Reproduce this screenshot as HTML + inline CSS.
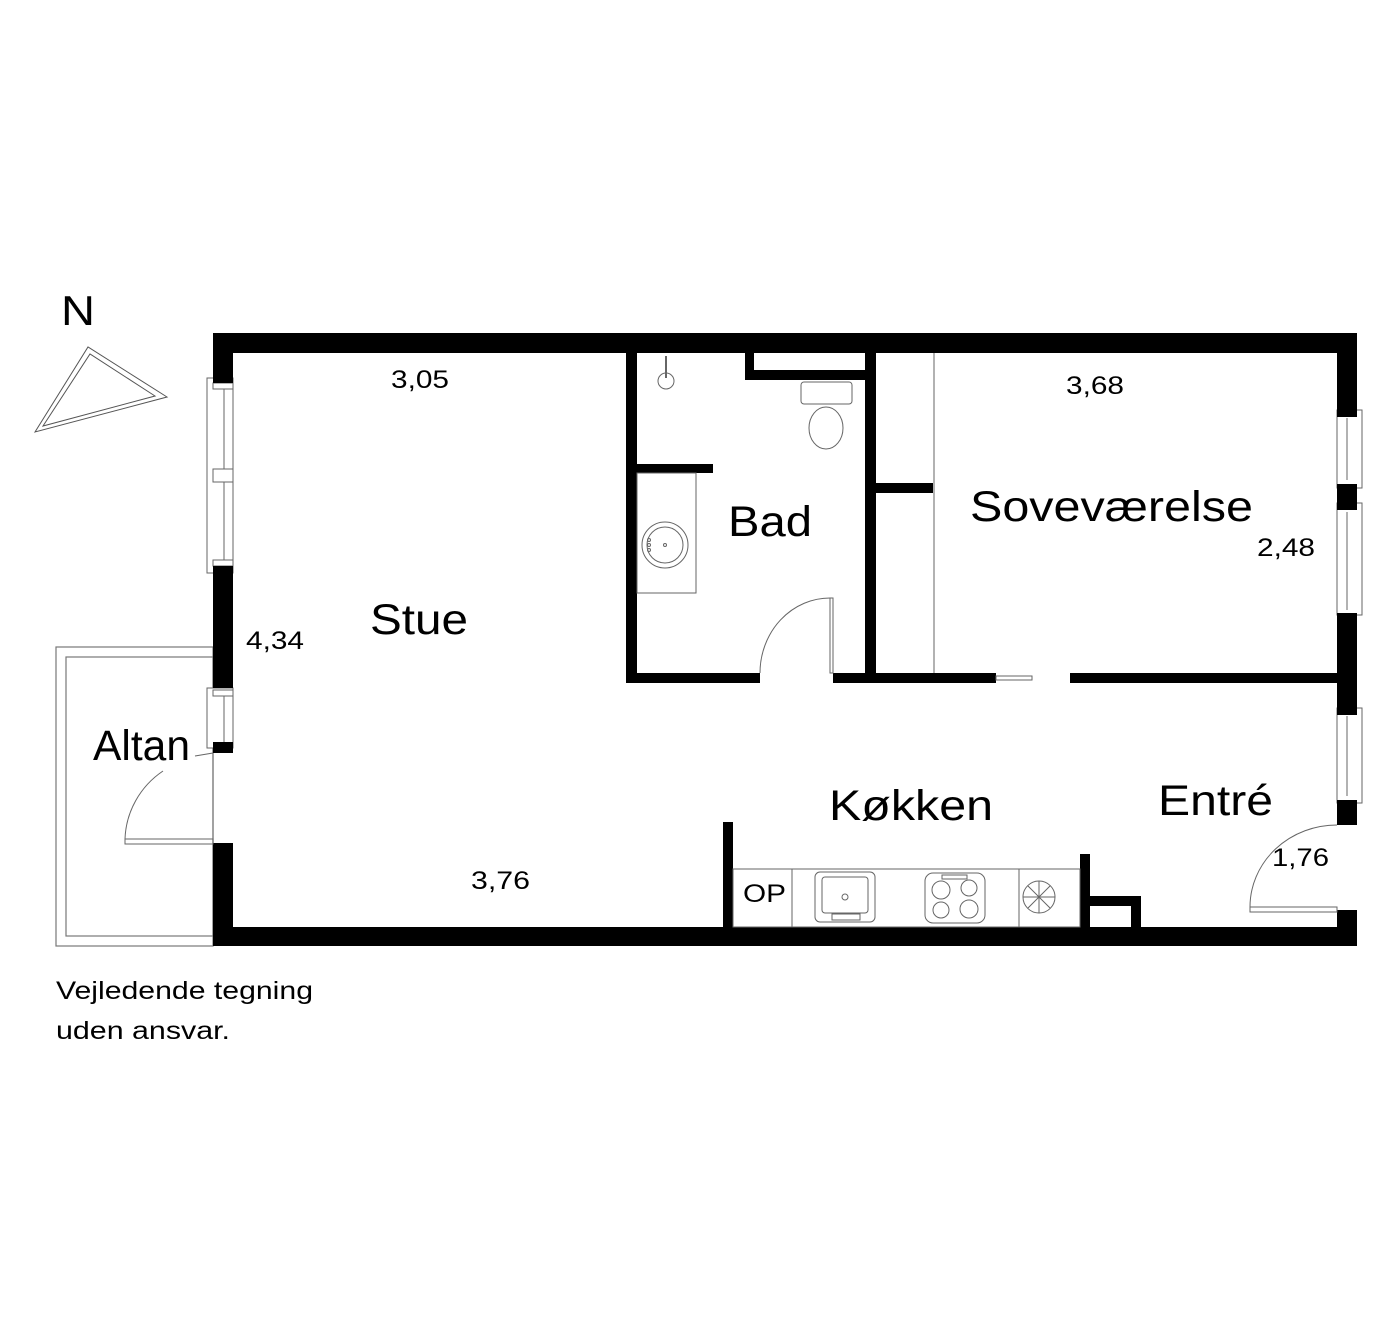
<!DOCTYPE html>
<html><head><meta charset="utf-8"><style>
html,body{margin:0;padding:0;background:#fff;}
svg{display:block;}
text{font-family:"Liberation Sans",Arial,sans-serif;fill:#000;}
</style></head><body>
<svg width="1400" height="1340" viewBox="0 0 1400 1340" xmlns="http://www.w3.org/2000/svg">
<rect width="1400" height="1340" fill="#fff"/>
<text x="61" y="325" font-size="42" textLength="34" lengthAdjust="spacingAndGlyphs">N</text>
<polygon points="35,432 88,347 167,397" fill="none" stroke="#555" stroke-width="1"/>
<polygon points="43,426 90,354 155,396" fill="none" stroke="#555" stroke-width="1"/>
<rect x="56" y="647" width="157" height="299" fill="none" stroke="#777" stroke-width="1.2"/>
<rect x="66" y="657" width="147" height="279" fill="none" stroke="#777" stroke-width="1.2"/>
<g fill="#fff" stroke="#666" stroke-width="1">
<rect x="207" y="378" width="26" height="195"/>
<rect x="213" y="383" width="20" height="6"/>
<rect x="213" y="469" width="20" height="13"/>
<rect x="213" y="560" width="20" height="6"/>
<line x1="224" y1="389" x2="224" y2="469"/><line x1="224" y1="482" x2="224" y2="560"/>
<rect x="207" y="688" width="26" height="60"/>
<rect x="213" y="690" width="20" height="6"/>
<line x1="224" y1="696" x2="224" y2="742"/>
<rect x="1337" y="410" width="25" height="78"/>
<rect x="1337" y="503" width="25" height="112"/>
<rect x="1337" y="708" width="25" height="95"/>
<line x1="1347" y1="418" x2="1347" y2="480"/>
<line x1="1347" y1="512" x2="1347" y2="610"/>
<line x1="1347" y1="716" x2="1347" y2="796"/>
</g>
<g fill="#000">
<rect x="213" y="333" width="1144" height="20"/>
<rect x="213" y="927" width="1144" height="19"/>
<rect x="213" y="333" width="20" height="50"/>
<rect x="213" y="566" width="20" height="122"/>
<rect x="213" y="742" width="20" height="11"/>
<rect x="213" y="843" width="20" height="103"/>
<rect x="1337" y="333" width="20" height="84"/>
<rect x="1337" y="484" width="20" height="26"/>
<rect x="1337" y="613" width="20" height="102"/>
<rect x="1337" y="800" width="20" height="25"/>
<rect x="1337" y="910" width="20" height="36"/>
<rect x="626" y="353" width="11" height="330"/>
<rect x="626" y="673" width="134" height="10"/>
<rect x="833" y="673" width="163" height="10"/>
<rect x="865" y="353" width="11" height="330"/>
<rect x="745" y="353" width="9" height="27"/>
<rect x="745" y="370" width="131" height="10"/>
<rect x="637" y="464" width="76" height="9"/>
<rect x="876" y="483" width="57" height="10"/>
<rect x="1070" y="673" width="267" height="10"/>
<rect x="723" y="822" width="10" height="105"/>
<rect x="1080" y="854" width="10" height="73"/>
<rect x="1080" y="896" width="61" height="10"/>
<rect x="1131" y="896" width="10" height="31"/>
</g>
<g fill="none" stroke="#666" stroke-width="1">
<line x1="934" y1="353" x2="934" y2="673"/>
<rect x="996" y="676" width="36" height="4"/>
<rect x="830" y="598" width="3" height="75"/>
<path d="M760,673 A70,75 0 0 1 830,598"/>
<rect x="637" y="473" width="59" height="120"/>
<circle cx="665" cy="545" r="23"/><circle cx="665" cy="545" r="18"/><circle cx="665" cy="545" r="1.5"/>
<circle cx="649" cy="540" r="1.5"/><circle cx="649" cy="545" r="1.5"/><circle cx="649" cy="550" r="1.5"/>
<circle cx="666" cy="381" r="8"/><line x1="666" y1="356" x2="666" y2="378" stroke-width="2"/>
<rect x="801" y="382" width="51" height="22" rx="3"/>
<ellipse cx="826" cy="428" rx="17" ry="21"/>
<rect x="733" y="869" width="347" height="58"/>
<line x1="792" y1="869" x2="792" y2="927"/>
<line x1="1019" y1="869" x2="1019" y2="927"/>
<rect x="815" y="872" width="60" height="50" rx="5"/>
<rect x="822" y="877" width="46" height="36" rx="3"/>
<circle cx="845" cy="897" r="3"/>
<rect x="832" y="914" width="28" height="6"/>
<rect x="925" y="873" width="60" height="50" rx="8"/>
<circle cx="941" cy="890" r="9"/><circle cx="969" cy="888" r="8"/>
<circle cx="941" cy="910" r="8"/><circle cx="969" cy="909" r="9"/>
<rect x="942" y="875" width="25" height="4"/>
<circle cx="1039" cy="897" r="16"/>
<path d="M1023,897 H1055 M1039,881 V913 M1028,886 L1050,908 M1050,886 L1028,908"/>
<rect x="1250" y="907" width="87" height="5"/>
<path d="M1250,907 A87,82 0 0 1 1337,825"/>
<rect x="125" y="839" width="88" height="5"/>
<path d="M125,839 A88,86 0 0 1 163,771"/>
<path d="M195,756 L213,753"/>
</g>
<g font-size="25" lengthAdjust="spacingAndGlyphs">
<text x="391" y="388" textLength="58" lengthAdjust="spacingAndGlyphs">3,05</text>
<text x="1066" y="394" textLength="58" lengthAdjust="spacingAndGlyphs">3,68</text>
<text x="1257" y="556" textLength="58" lengthAdjust="spacingAndGlyphs">2,48</text>
<text x="246" y="649" textLength="58" lengthAdjust="spacingAndGlyphs">4,34</text>
<text x="471" y="889" textLength="59" lengthAdjust="spacingAndGlyphs">3,76</text>
<text x="1272" y="866" textLength="57" lengthAdjust="spacingAndGlyphs">1,76</text>
<text x="743" y="902" textLength="43" lengthAdjust="spacingAndGlyphs">OP</text>
<text x="56" y="999" textLength="257" lengthAdjust="spacingAndGlyphs">Vejledende tegning</text>
<text x="56" y="1039" textLength="174" lengthAdjust="spacingAndGlyphs">uden ansvar.</text>
</g>
<g font-size="43">
<text x="370" y="634" textLength="98" lengthAdjust="spacingAndGlyphs">Stue</text>
<text x="728" y="536" textLength="84" lengthAdjust="spacingAndGlyphs">Bad</text>
<text x="970" y="521" textLength="283" lengthAdjust="spacingAndGlyphs">Soveværelse</text>
<text x="93" y="760" textLength="97" lengthAdjust="spacingAndGlyphs">Altan</text>
<text x="829" y="820" textLength="164" lengthAdjust="spacingAndGlyphs">Køkken</text>
<text x="1158" y="815" textLength="115" lengthAdjust="spacingAndGlyphs">Entré</text>
</g>
</svg>
</body></html>
